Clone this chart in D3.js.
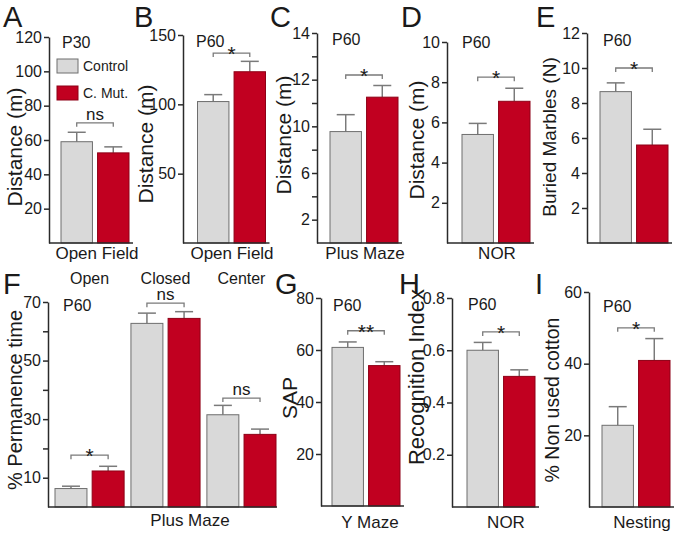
<!DOCTYPE html>
<html><head><meta charset="utf-8">
<script src="https://cdn.jsdelivr.net/npm/d3@7"></script>
<style>
body{margin:0;background:#fff}
text{font-family:"Liberation Sans",Arial,Helvetica,sans-serif;fill:#1a1a1a}
</style>
</head><body>
<svg id="chart" width="677" height="534"></svg>
<script>
// ---------------- DATA ----------------
const groups = ["Control", "C. Mut."];

// A: Open field distance, P30
const openFieldP30 = [59, 52.5];
const openFieldP30Sem = [5.5, 3.5];
const ticksA = [20, 40, 60, 80, 100, 120];

// B: Open field distance, P60
const openFieldP60 = [102, 123.5];
const openFieldP60Sem = [5, 7.5];
const ticksB = [50, 100, 150];

// C: Plus maze distance, P60 (axis labelled 2,6,10,12,14 as in the figure)
const plusMazeDist = [9.55, 11.25];
const plusMazeDistSem = [0.95, 0.5];
const ticksC = [2, 4, 6, 8, 10, 11, 12, 13, 14];
const tickLabelsC = ["2", "", "6", "", "10", "", "12", "", "14"];

// D: NOR distance, P60
const norDist = [5.4, 7.05];
const norDistSem = [0.55, 0.65];
const ticksD = [2, 4, 6, 8, 10];

// E: Buried marbles
const marbles = [8.65, 5.6];
const marblesSem = [0.5, 0.9];
const ticksE = [2, 4, 6, 8, 10, 12];

// F: Plus maze permanence
const armCategories = ["Open", "Closed", "Center"];
const permControl = [6.3, 62.7, 31.5];
const permControlSem = [0.8, 3.5, 3.2];
const permMut = [12.3, 64.4, 24.8];
const permMutSem = [1.6, 2.3, 1.8];
const permSig = ["*", "ns", "ns"];
const ticksF = [10, 20, 30, 40, 50, 60, 70];
const tickLabelsF = ["10", "", "30", "", "50", "", "70"];

// G: Y maze SAP
const sap = [61, 54];
const sapSem = [2.1, 1.5];
const ticksG = [20, 40, 60, 80];

// H: Recognition index
const recog = [0.6, 0.5];
const recogSem = [0.03, 0.025];
const ticksH = [0.2, 0.4, 0.6, 0.8];

// I: Nesting
const nesting = [22.8, 40.9];
const nestingSem = [5.2, 6.1];
const ticksI = [20, 40, 60];

// ---------------- STYLE ----------------
const colControl = "#d9d9d9", colMut = "#c10020";
const strokeControl = "#6e6e6e", strokeMut = "#8e0016";
const errCol = "#7a7a7a", brCol = "#7a7a7a", axisCol = "#2a2a2a";
const letterSize = 29;

const svg = d3.select("#chart");

function letter(t, x, y) {
  svg.append("text").attr("x", x).attr("y", y).attr("font-size", letterSize).text(t);
}
function yTitle(t, x, y, size) {
  svg.append("text").attr("transform", `translate(${x},${y}) rotate(-90)`)
    .attr("text-anchor", "middle").attr("font-size", size).text(t);
}
function label(t, x, y, size, anchor) {
  svg.append("text").attr("x", x).attr("y", y).attr("font-size", size)
    .attr("text-anchor", anchor || "middle").text(t);
}
function drawAxis(y, ax, ticks, labels, fmt) {
  const a = d3.axisLeft(y).tickValues(ticks).tickSize(5).tickSizeOuter(0).tickPadding(2)
    .tickFormat((d, i) => labels ? labels[i] : (fmt ? fmt(d) : d));
  const g = svg.append("g").attr("transform", `translate(${ax},0)`).call(a);
  g.selectAll("path,line").attr("stroke", axisCol).attr("stroke-width", 1.5);
  g.selectAll("text").attr("font-size", 16).attr("fill", "#1a1a1a")
    .attr("font-family", '"Liberation Sans",Arial,sans-serif');
}
function baseLine(x0, x1, yb) {
  svg.append("line").attr("x1", x0).attr("x2", x1).attr("y1", yb).attr("y2", yb)
    .attr("stroke", axisCol).attr("stroke-width", 1.7);
}
function bars(x, y, vals, sems, keys, base) {
  keys.forEach((k, i) => {
    const cx = x(k) + x.bandwidth() / 2;
    const yt = y(vals[i] + sems[i]);
    svg.append("line").attr("x1", cx).attr("x2", cx).attr("y1", y(vals[i])).attr("y2", yt)
      .attr("stroke", errCol).attr("stroke-width", 1.5);
    svg.append("line").attr("x1", cx - 9).attr("x2", cx + 9).attr("y1", yt).attr("y2", yt)
      .attr("stroke", errCol).attr("stroke-width", 1.5);
    svg.append("rect").attr("x", x(k)).attr("y", y(vals[i]))
      .attr("width", x.bandwidth()).attr("height", base - y(vals[i]))
      .attr("fill", i === 0 ? colControl : colMut)
      .attr("stroke", i === 0 ? strokeControl : strokeMut).attr("stroke-width", 1);
  });
}
function bracket(xa, xb, yy, sig) {
  svg.append("path").attr("d", `M${xa},${yy + 4}V${yy}H${xb}V${yy + 4}`)
    .attr("fill", "none").attr("stroke", brCol).attr("stroke-width", 1.3);
  const cx = (xa + xb) / 2;
  if (sig === "ns") label("ns", cx, yy - 3, 17);
  else label(sig, cx, yy + 8, 21);
}

// ---------------- SIMPLE PANELS ----------------
const panels = [
  {L: "A", lx: 3, ly: 27, vals: openFieldP30, sems: openFieldP30Sem, domain: [0, 120], ticks: ticksA,
   ax: 49, top: 37, base: 243, x0: 61, title: "Distance (m)", tx: 22, ty: 147, ts: 21,
   xl: "Open Field", xlx: 97, xly: 259, age: "P30", agx: 62, agy: 48, sig: "ns", sigV: 70},
  {L: "B", lx: 134, ly: 27, vals: openFieldP60, sems: openFieldP60Sem, domain: [0, 150], ticks: ticksB,
   ax: 183, top: 35, base: 243, x0: 197.5, title: "Distance (m)", tx: 153, ty: 144, ts: 21,
   xl: "Open Field", xlx: 232, xly: 259, age: "P60", agx: 196, agy: 47, sig: "*", sigV: 137},
  {L: "C", lx: 270, ly: 27, vals: plusMazeDist, sems: plusMazeDistSem, ticks: ticksC, tickLabels: tickLabelsC,
   scaleDomain: [0, 2, 6, 10, 12, 14], scaleSteps: [0, 1, 3, 5, 7, 9],
   ax: 317, top: 33, base: 243, x0: 330, title: "Distance (m)", tx: 291, ty: 135, ts: 21,
   xl: "Plus Maze", xlx: 365, xly: 259, age: "P60", agx: 332, agy: 45, sig: "*", sigV: 12.2},
  {L: "D", lx: 401, ly: 27, vals: norDist, sems: norDistSem, domain: [0, 10], ticks: ticksD,
   ax: 447, top: 42, base: 243, x0: 462, title: "Distance (m)", tx: 424, ty: 140, ts: 21,
   xl: "NOR", xlx: 497, xly: 259, age: "P60", agx: 462, agy: 48, sig: "*", sigV: 8.25},
  {L: "E", lx: 536, ly: 27, vals: marbles, sems: marblesSem, domain: [0, 12], ticks: ticksE,
   ax: 587, top: 33, base: 243, x0: 600, title: "Buried Marbles (N)", tx: 556, ty: 137, ts: 19,
   xl: "", xlx: 0, xly: 0, age: "P60", agx: 603, agy: 46, sig: "*", sigV: 10},
  {L: "G", lx: 275, ly: 294, vals: sap, sems: sapSem, domain: [0, 80], ticks: ticksG,
   ax: 321, top: 298, base: 506, x0: 332, title: "SAP", tx: 297, ty: 398, ts: 21,
   xl: "Y Maze", xlx: 370, xly: 528, age: "P60", agx: 333, agy: 311, sig: "**", sigV: 67.4},
  {L: "H", lx: 399, ly: 294, vals: recog, sems: recogSem, domain: [0, 0.8], ticks: ticksH, fmt: d3.format(".1f"),
   ax: 452, top: 298, base: 507, x0: 467, title: "Recognition Index", tx: 424, ty: 377, ts: 22,
   xl: "NOR", xlx: 506, xly: 528, age: "P60", agx: 468, agy: 310, sig: "*", sigV: 0.67},
  {L: "I", lx: 535, ly: 294, vals: nesting, sems: nestingSem, domain: [0, 60], ticks: ticksI,
   ax: 589, top: 292, base: 507, x0: 602, title: "% Non used cotton", tx: 559, ty: 400, ts: 19.5,
   xl: "Nesting", xlx: 642, xly: 528, age: "P60", agx: 603, agy: 312, sig: "*", sigV: 50}
];

panels.forEach(p => {
  let y;
  if (p.scaleDomain) {
    const stepPx = (p.base - p.top) / p.scaleSteps[p.scaleSteps.length - 1];
    y = d3.scaleLinear().domain(p.scaleDomain).range(p.scaleSteps.map(s => p.base - s * stepPx));
  } else {
    y = d3.scaleLinear().domain(p.domain).range([p.base, p.top]);
  }
  const x = d3.scaleBand().domain(groups).range([p.x0, p.x0 + 68]).paddingInner(0.14);
  letter(p.L, p.lx, p.ly);
  yTitle(p.title, p.tx, p.ty, p.ts);
  bars(x, y, p.vals, p.sems, groups, p.base);
  drawAxis(y, p.ax, p.ticks, p.tickLabels, p.fmt);
  baseLine(p.ax, p.x0 + 72, p.base);
  if (p.xl) label(p.xl, p.xlx, p.xly, 17);
  label(p.age, p.agx, p.agy, 16, "start");
  const bw = x.bandwidth() / 2;
  bracket(x(groups[0]) + bw, x(groups[1]) + bw, y(p.sigV), p.sig);
});

// Legend in A
[[colControl, strokeControl, 59, "Control"], [colMut, strokeMut, 86, "C. Mut."]].forEach(([f, s, yy, t]) => {
  svg.append("rect").attr("x", 57).attr("y", yy).attr("width", 21).attr("height", 14)
    .attr("fill", f).attr("stroke", s).attr("stroke-width", 1);
  label(t, 83, yy + 12, 14, "start");
});

// ---------------- PANEL F (grouped) ----------------
(function () {
  const ax = 48, top = 302, base = 507;
  const y = d3.scaleLinear().domain([0, 70]).range([base, top]);
  const xo = d3.scaleBand().domain(armCategories).range([55, 276]).paddingInner(0.09);
  const xi = d3.scaleBand().domain(groups).range([0, xo.bandwidth()]).paddingInner(0.14);
  letter("F", 3, 294);
  yTitle("% Permanence time", 22, 400, 20);
  armCategories.forEach((c, j) => {
    const xs = d3.scaleBand().domain(groups).range([xo(c), xo(c) + xo.bandwidth()]).paddingInner(0.14);
    bars(xs, y, [permControl[j], permMut[j]], [permControlSem[j], permMutSem[j]], groups, base);
    label(c, xo(c) + xo.bandwidth() / 2, 284, 16);
  });
  drawAxis(y, ax, ticksF, tickLabelsF);
  baseLine(ax, 277, base);
  label("P60", 63, 311, 16, "start");
  label("Plus Maze", 190, 526, 17);
  const sigVals = [17.7, 69.6, 37.2];
  armCategories.forEach((c, j) => {
    const a = xo(c) + xi(groups[0]) + xi.bandwidth() / 2;
    const b = xo(c) + xi(groups[1]) + xi.bandwidth() / 2;
    bracket(a, b, y(sigVals[j]), permSig[j]);
  });
})();
</script>
</body></html>
